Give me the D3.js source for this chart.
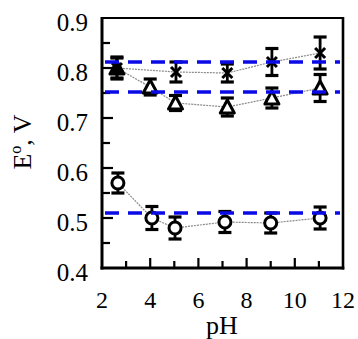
<!DOCTYPE html>
<html><head><meta charset="utf-8">
<script src="https://cdn.jsdelivr.net/npm/d3@7"></script>
<style>html,body{margin:0;padding:0;background:#fff;}svg{display:block;}</style>
</head><body>
<svg id="c" width="358" height="339"></svg>
<script>
// ---- data ----
const crossPH = [2.62, 5.07, 7.2, 9.05, 11.05];
const crossE = [0.800, 0.792, 0.790, 0.812, 0.830];
const crossErr = [0.022, 0.020, 0.018, 0.027, 0.032];

const triPH = [2.62, 4.0, 5.05, 7.2, 9.05, 11.05];
const triE = [0.800, 0.762, 0.730, 0.722, 0.740, 0.760];
const triErr = [0.020, 0.016, 0.015, 0.018, 0.020, 0.027];

const circPH = [2.66, 4.07, 5.03, 7.1, 9.0, 11.05];
const circE = [0.570, 0.500, 0.480, 0.492, 0.490, 0.500];
const circErr = [0.020, 0.023, 0.022, 0.021, 0.020, 0.022];

const refLines = [0.812, 0.752, 0.51];

const xTickLabels = [2, 4, 6, 8, 10, 12];
const yTickLabels = [0.4, 0.5, 0.6, 0.7, 0.8, 0.9];

// ---- layout ----
const svg = d3.select("#c");
const L = 102, R = 343, T = 18, B = 268;
const x = d3.scaleLinear().domain([2, 12]).range([L, R]);
const y = d3.scaleLinear().domain([0.4, 0.9]).range([B, T]);
const font = "'Liberation Serif','Times New Roman',serif";

// ticks
const g = svg.append("g");
d3.range(3, 12, 1).forEach(v => {
  const major = v % 2 === 0;
  g.append("line").attr("x1", x(v)).attr("x2", x(v)).attr("y1", B).attr("y2", B - (major ? 10 : 7))
    .attr("stroke", "#000").attr("stroke-width", 2.2);
});
d3.range(0.45, 0.9, 0.05).forEach(v => {
  const major = Math.abs(Math.round(v * 10) - v * 10) < 1e-6;
  g.append("line").attr("y1", y(v)).attr("y2", y(v)).attr("x1", L).attr("x2", L + (major ? 11 : 8))
    .attr("stroke", "#000").attr("stroke-width", 2.2);
});

// frame
svg.append("line").attr("x1", L).attr("x2", R).attr("y1", T).attr("y2", T).attr("stroke", "#000").attr("stroke-width", 2);
svg.append("line").attr("x1", R).attr("x2", R).attr("y1", T - 1).attr("y2", B + 1.5).attr("stroke", "#000").attr("stroke-width", 2.6);
svg.append("line").attr("x1", L).attr("x2", L).attr("y1", T - 1).attr("y2", B + 1.5).attr("stroke", "#000").attr("stroke-width", 3);
svg.append("line").attr("x1", L - 1.5).attr("x2", R + 1.3).attr("y1", B).attr("y2", B).attr("stroke", "#000").attr("stroke-width", 3);

// tick labels
svg.selectAll(".xl").data(xTickLabels).enter().append("text")
  .attr("x", d => x(d)).attr("y", 308).attr("text-anchor", "middle")
  .attr("font-family", font).attr("font-size", 24).text(d => d);
svg.selectAll(".yl").data(yTickLabels).enter().append("text")
  .attr("x", 88).attr("y", d => y(d) + 13).attr("text-anchor", "end")
  .attr("font-family", font).attr("font-size", 25).text(d => d.toFixed(1));

// axis titles
svg.append("text").attr("x", 222).attr("y", 334).attr("text-anchor", "middle")
  .attr("font-family", font).attr("font-size", 26).text("pH");
const yt = svg.append("text").attr("transform", "translate(31,142) rotate(-90)").attr("text-anchor", "middle")
  .attr("font-family", font).attr("font-size", 26);
yt.append("tspan").text("E");
yt.append("tspan").attr("font-size", 16).attr("dy", -10).text("o");
yt.append("tspan").attr("dy", 10).text(", V");

// connecting gray lines
const line = d3.line().x(d => x(d[0])).y(d => y(d[1]));
[[crossPH, crossE], [triPH, triE], [circPH, circE]].forEach(([px, py]) => {
  svg.append("path").attr("d", line(px.map((p, i) => [p, py[i]])))
    .attr("fill", "none").attr("stroke", "#8a8a8a").attr("stroke-width", 1.2).attr("stroke-dasharray", "2,1");
});

// error bars
function errBars(px, py, pe) {
  px.forEach((p, i) => {
    const cx = x(p), y1 = y(py[i] + pe[i]), y2 = y(py[i] - pe[i]);
    svg.append("line").attr("x1", cx).attr("x2", cx).attr("y1", y1).attr("y2", y2).attr("stroke", "#000").attr("stroke-width", 2.8);
    [y1, y2].forEach(yy => svg.append("line").attr("x1", cx - 6.5).attr("x2", cx + 6.5).attr("y1", yy).attr("y2", yy)
      .attr("stroke", "#000").attr("stroke-width", 3.2));
  });
}
errBars(crossPH, crossE, crossErr);
errBars(triPH, triE, triErr);
errBars(circPH, circE, circErr);

// triangles
triPH.forEach((p, i) => {
  const cx = x(p), cy = y(triE[i]);
  const s = 7;
  svg.append("path").attr("d", `M${cx},${cy - s}L${cx + s},${cy + s * 0.85}L${cx - s},${cy + s * 0.85}Z`)
    .attr("fill", i === 0 ? "#000" : "#fff").attr("stroke", "#000").attr("stroke-width", 3).attr("stroke-linejoin", "round");
});
// crosses
crossPH.forEach((p, i) => {
  const cx = x(p), cy = y(crossE[i]);
  const s = 5;
  svg.append("path").attr("d", `M${cx - s},${cy - s}L${cx + s},${cy + s}M${cx + s},${cy - s}L${cx - s},${cy + s}`)
    .attr("stroke", "#000").attr("stroke-width", 3).attr("fill", "none");
});
// circles
circPH.forEach((p, i) => {
  svg.append("circle").attr("cx", x(p)).attr("cy", y(circE[i])).attr("r", 6)
    .attr("fill", "#fff").attr("stroke", "#000").attr("stroke-width", 3);
});

// blue dashed reference lines
svg.selectAll(".ref").data(refLines).enter().append("line")
  .attr("x1", 105).attr("x2", 340).attr("y1", d => y(d)).attr("y2", d => y(d))
  .attr("stroke", "#0a0ae6").attr("stroke-width", 3.5).attr("stroke-dasharray", "14,9");
</script>
</body></html>
